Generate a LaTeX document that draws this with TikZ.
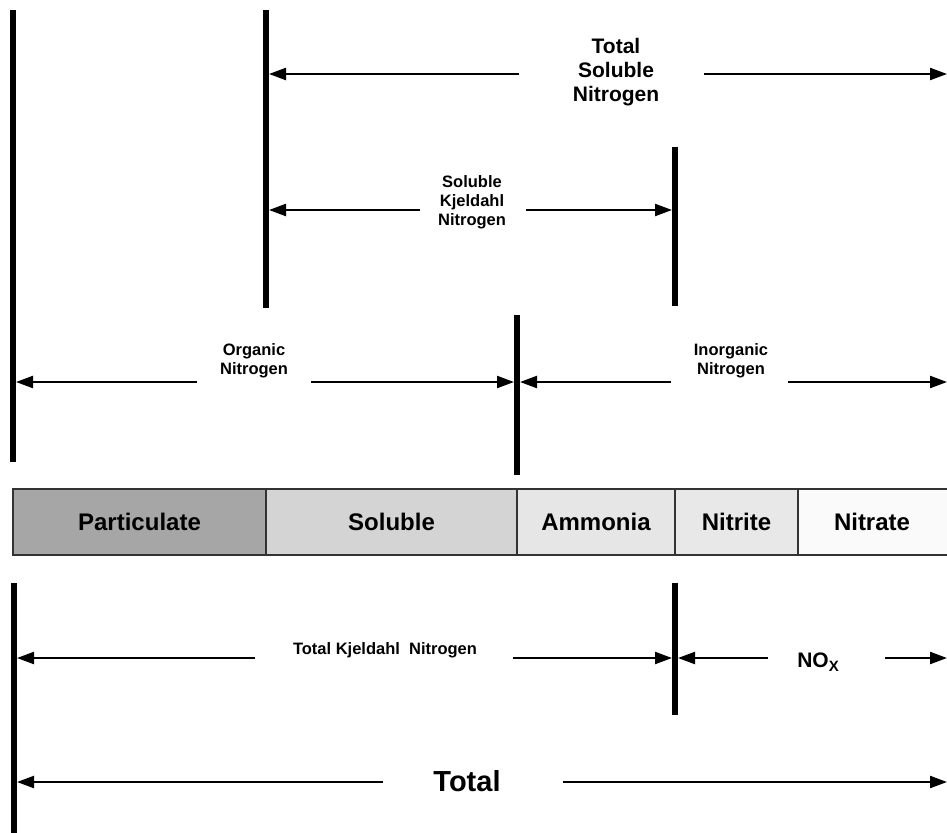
\documentclass[tikz,border=0pt]{standalone}
\usepackage{fontspec}
\setmainfont{Liberation Sans}
\usetikzlibrary{arrows.meta}
\definecolor{cpart}{HTML}{A6A6A6}
\definecolor{csol}{HTML}{D4D4D4}
\definecolor{camm}{HTML}{E6E6E6}
\definecolor{cnit}{HTML}{E8E8E8}
\definecolor{cnat}{HTML}{FAFAFA}
\definecolor{edge}{HTML}{333333}
\begin{document}
\begin{tikzpicture}[x=1pt,y=-1pt,
  bar/.style={line width=5.5pt},
  dim/.style={line width=2.2pt,-{Triangle[length=17pt,width=12pt]}},
  lbl/.style={align=center,inner sep=0pt,font=\bfseries\fontsize{16.5}{19}\selectfont},
  biglbl/.style={align=center,inner sep=0pt,font=\bfseries\fontsize{21}{24}\selectfont},
  cell/.style={draw=edge,line width=1.5pt,minimum height=66pt,inner sep=0pt},
  celltext/.style={inner sep=0pt,font=\bfseries\fontsize{24}{28}\selectfont}]
\useasboundingbox (0,0) rectangle (947,832);
\fill[white] (0,0) rectangle (947,832);

% vertical bars
\draw[bar] (13,10) coordinate (b1t) -- (13,462) coordinate (b1b);
\draw[bar] (266,10) coordinate (b2t) -- (266,308) coordinate (b2b);
\draw[bar] (675,147) coordinate (b3t) -- (675,306) coordinate (b3b);
\draw[bar] (517,315) coordinate (b4t) -- (517,475) coordinate (b4b);
\draw[bar] (14,583) coordinate (b5t) -- (14,836) coordinate (b5b);
\draw[bar] (675,583) coordinate (b6t) -- (675,715) coordinate (b6b);

% Total Soluble Nitrogen
\node[biglbl] (tsn) at (616,72) {Total\\Soluble\\Nitrogen};
\coordinate (tsnA) at (519,74); \coordinate (tsnL) at (269,74);
\coordinate (tsnB) at (704,74); \coordinate (tsnR) at (947,74);
\draw[dim] (tsnA) -- (tsnL);
\draw[dim] (tsnB) -- (tsnR);

% Soluble Kjeldahl Nitrogen
\node[lbl] (skn) at (472,202) {Soluble\\Kjeldahl\\Nitrogen};
\coordinate (sknA) at (420,210); \coordinate (sknL) at (269,210);
\coordinate (sknB) at (526,210); \coordinate (sknR) at (672,210);
\draw[dim] (sknA) -- (sknL);
\draw[dim] (sknB) -- (sknR);

% Organic Nitrogen
\node[lbl] (on) at (254,361) {Organic\\Nitrogen};
\coordinate (onA) at (197,382); \coordinate (onL) at (16,382);
\coordinate (onB) at (311,382); \coordinate (onR) at (514,382);
\draw[dim] (onA) -- (onL);
\draw[dim] (onB) -- (onR);

% Inorganic Nitrogen
\node[lbl] (inn) at (731,361) {Inorganic\\Nitrogen};
\coordinate (inA) at (671,382); \coordinate (inL) at (520,382);
\coordinate (inB) at (788,382); \coordinate (inR) at (947,382);
\draw[dim] (inA) -- (inL);
\draw[dim] (inB) -- (inR);

% fraction boxes
\node[cell,fill=cpart,minimum width=253pt] (part) at (139.5,522) {};
\node[cell,fill=csol,minimum width=251pt] (sol) at (391.5,522) {};
\node[cell,fill=camm,minimum width=158pt] (amm) at (596,522) {};
\node[cell,fill=cnit,minimum width=123pt] (nit) at (736.5,522) {};
\node[cell,fill=cnat,minimum width=170pt] (nat) at (883,522) {};
\node[celltext] at (part.center) {Particulate};
\node[celltext] at (sol.center) {Soluble};
\node[celltext] at (amm.center) {Ammonia};
\node[celltext] at (nit.center) {Nitrite};
\node[celltext] (natt) at (872,522) {Nitrate};

% Total Kjeldahl Nitrogen
\node[lbl] (tkn) at (385,650) {Total Kjeldahl\ \ Nitrogen};
\coordinate (tknA) at (255,658); \coordinate (tknL) at (17,658);
\coordinate (tknB) at (513,658); \coordinate (tknR) at (672,658);
\draw[dim] (tknA) -- (tknL);
\draw[dim] (tknB) -- (tknR);

% NOx
\node[inner sep=0pt,font=\bfseries\fontsize{21}{24}\selectfont] (nox) at (818,662) {NO\raisebox{-4pt}{\fontsize{15}{15}\selectfont X}};
\coordinate (noxA) at (768,658); \coordinate (noxL) at (678,658);
\coordinate (noxB) at (885,658); \coordinate (noxR) at (947,658);
\draw[dim] (noxA) -- (noxL);
\draw[dim] (noxB) -- (noxR);

% Total
\node[inner sep=0pt,font=\bfseries\fontsize{29}{32}\selectfont] (tot) at (467,781) {Total};
\coordinate (totA) at (383,782); \coordinate (totL) at (17,782);
\coordinate (totB) at (563,782); \coordinate (totR) at (947,782);
\draw[dim] (totA) -- (totL);
\draw[dim] (totB) -- (totR);
\end{tikzpicture}
\end{document}
